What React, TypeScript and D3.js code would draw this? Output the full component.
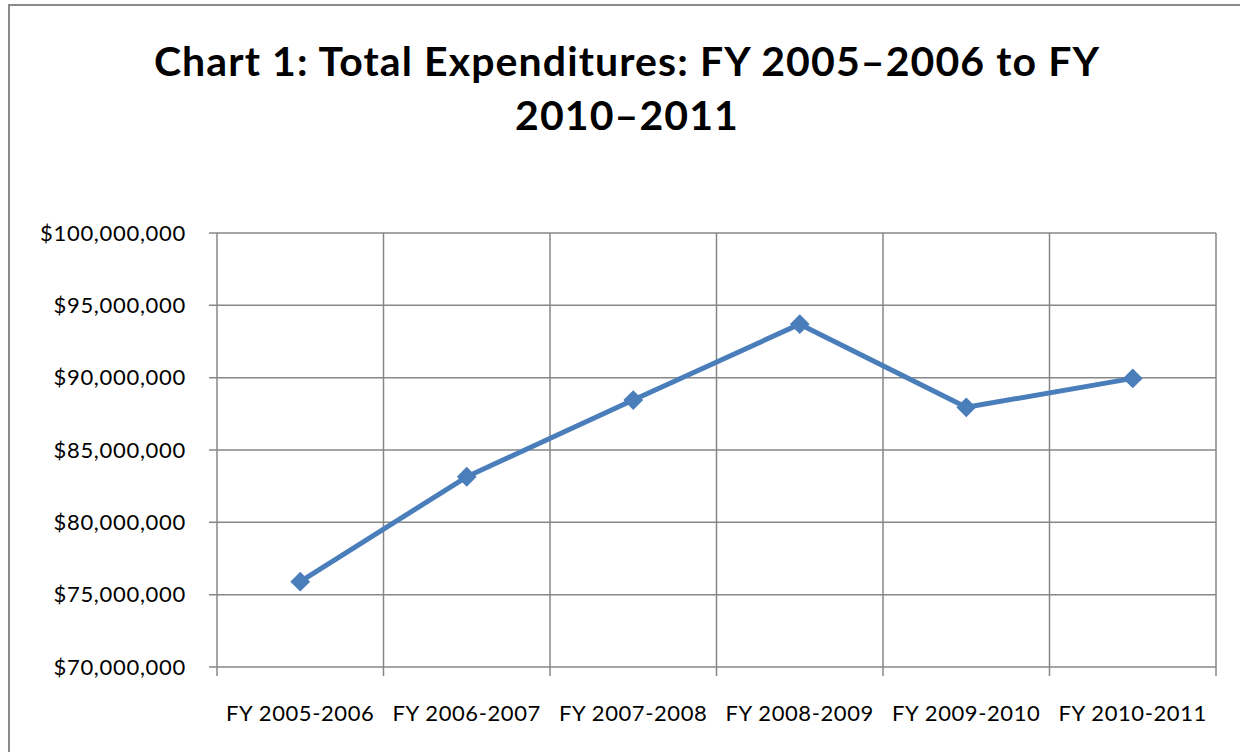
import React, { useEffect, useRef } from 'react';
import * as d3 from 'd3';

const categories = ['FY 2005-2006', 'FY 2006-2007', 'FY 2007-2008', 'FY 2008-2009', 'FY 2009-2010', 'FY 2010-2011'];
const expenditures = [75900000, 83150000, 88450000, 93700000, 87950000, 89950000];
const yTicks = [70000000, 75000000, 80000000, 85000000, 90000000, 95000000, 100000000];
const titleLines = ['Chart 1: Total Expenditures: FY 2005\u20132006 to FY', '2010\u20132011'];

const W = 1240;
const H = 752;
const FONT = 'Lato, "Open Sans", sans-serif';

const App = () => {
    const ref = useRef<SVGSVGElement>(null);

    useEffect(() => {
        const svg = d3.select(ref.current);
        svg.selectAll('*').remove();

        const left = 217, right = 1216, top = 233, bottom = 667;

        // outer chart frame
        svg.append('rect')
            .attr('x', 9).attr('y', 5)
            .attr('width', W + 20).attr('height', H + 20)
            .attr('fill', 'white')
            .attr('stroke', '#8a8a8a')
            .attr('stroke-width', 2);

        // title
        svg.append('g').selectAll('text')
            .data(titleLines)
            .join('text')
            .attr('x', 627)
            .attr('y', (_, i) => 76 + i * 54)
            .attr('text-anchor', 'middle')
            .attr('font-family', FONT)
            .attr('font-weight', 'bold')
            .attr('font-size', 41)
            .attr('letter-spacing', 1.1)
            .attr('fill', '#000')
            .text(d => d);

        const x = d3.scaleBand().domain(categories).range([left, right]);
        const y = d3.scaleLinear().domain([70000000, 100000000]).range([bottom, top]);

        const grid = '#878787';

        // horizontal gridlines + tick marks
        svg.append('g').selectAll('line')
            .data(yTicks)
            .join('line')
            .attr('x1', left - 8).attr('x2', right)
            .attr('y1', d => y(d)).attr('y2', d => y(d))
            .attr('stroke', grid).attr('stroke-width', 1.5);

        // vertical gridlines at category boundaries
        const bounds = categories.map(c => x(c) as number).concat([right]);
        svg.append('g').selectAll('line')
            .data(bounds)
            .join('line')
            .attr('x1', d => d).attr('x2', d => d)
            .attr('y1', top).attr('y2', bottom + 9)
            .attr('stroke', grid).attr('stroke-width', 1.5);

        const fmt = d3.format('$,.0f');
        svg.append('g').selectAll('text')
            .data(yTicks)
            .join('text')
            .attr('x', 186)
            .attr('y', d => y(d))
            .attr('dy', '0.35em')
            .attr('text-anchor', 'end')
            .attr('font-family', FONT)
            .attr('font-size', 22)
            .attr('letter-spacing', 0.7)
            .attr('fill', '#000')
            .text(d => fmt(d));

        svg.append('g').selectAll('text')
            .data(categories)
            .join('text')
            .attr('x', d => (x(d) as number) + x.bandwidth() / 2)
            .attr('y', 721)
            .attr('text-anchor', 'middle')
            .attr('font-family', FONT)
            .attr('font-size', 22)
            .attr('letter-spacing', 0.6)
            .attr('fill', '#000')
            .text(d => d);

        const pts = categories.map((c, i) => [(x(c) as number) + x.bandwidth() / 2, y(expenditures[i])] as [number, number]);
        const blue = '#4a7ebb';

        svg.append('path')
            .attr('d', d3.line()(pts))
            .attr('fill', 'none')
            .attr('stroke', blue)
            .attr('stroke-width', 5)
            .attr('stroke-linejoin', 'round');

        svg.append('g').selectAll('path')
            .data(pts)
            .join('path')
            .attr('transform', d => `translate(${d[0]},${d[1]}) rotate(45)`)
            .attr('d', 'M-7,-7H7V7H-7Z')
            .attr('fill', blue);
    }, []);

    return (
        <svg ref={ref} width={W} height={H}
            style={{ position: 'absolute', left: 0, top: 0, background: 'white' }} />
    );
};

export default App;
